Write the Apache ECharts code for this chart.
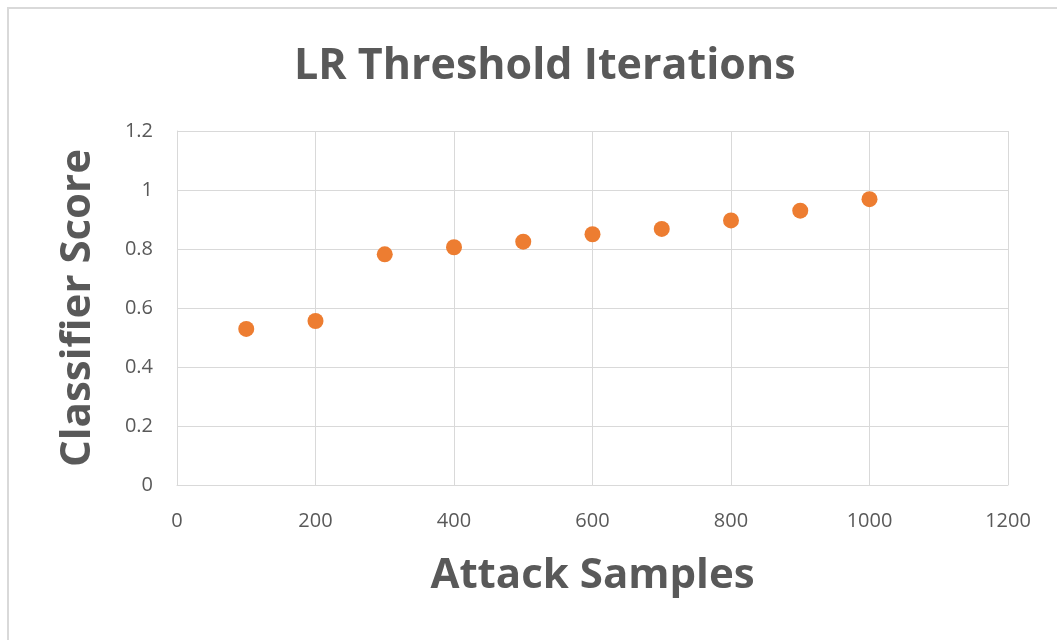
<!DOCTYPE html>
<html>
<head>
<meta charset="utf-8">
<script src="https://cdn.jsdelivr.net/npm/echarts@6/dist/echarts.min.js"></script>
<style>
html,body{margin:0;padding:0;background:#fff;}
#chart{width:1057px;height:640px;}
</style>
</head>
<body>
<div id="chart"></div>
<script>
const titleText = "LR Threshold Iterations";
const xAxisName = "Attack Samples";
const yAxisName = "Classifier Score";
const attackSamples = [100, 200, 300, 400, 500, 600, 700, 800, 900, 1000];
const classifierScores = [0.529, 0.556, 0.782, 0.806, 0.825, 0.850, 0.868, 0.897, 0.930, 0.969];

const points = attackSamples.map((x, i) => [x, classifierScores[i]]);
const txt = '#595959';
const grid = '#d9d9d9';
const chart = echarts.init(document.getElementById('chart'), null, {renderer: 'canvas'});
chart.setOption({
  backgroundColor: '#ffffff',
  animation: false,
  graphic: [{
    type: 'rect', shape: {x: 8, y: 8, width: 1060, height: 650},
    style: {fill: 'none', stroke: grid, lineWidth: 2}, silent: true
  }],
  title: {
    text: titleText, left: 289, top: 40,
    textStyle: {fontFamily: 'Open Sans', fontWeight: 'bold', fontSize: 43, color: txt}
  },
  grid: {left: 177, right: 49, top: 131, bottom: 155, containLabel: false},
  xAxis: {
    type: 'value', min: 0, max: 1200, interval: 200,
    name: xAxisName, nameLocation: 'middle', nameGap: 70,
    nameTextStyle: {fontFamily: 'Open Sans', fontWeight: 'bold', fontSize: 42, color: txt},
    axisLine: {show: true, lineStyle: {color: grid, width: 1}},
    axisTick: {show: false},
    axisLabel: {fontFamily: 'Open Sans', fontSize: 20, color: txt, margin: 26,
      formatter: v => String(v)},
    splitLine: {show: true, lineStyle: {color: grid, width: 1}}
  },
  yAxis: {
    type: 'value', min: 0, max: 1.2, interval: 0.2,
    name: yAxisName, nameLocation: 'middle', nameGap: 78,
    nameTextStyle: {fontFamily: 'Open Sans', fontWeight: 'bold', fontSize: 42, color: txt},
    axisLine: {show: true, lineStyle: {color: grid, width: 1}},
    axisTick: {show: false},
    axisLabel: {fontFamily: 'Open Sans', fontSize: 20, color: txt, margin: 24,
      formatter: v => String(Math.round(v * 10) / 10)},
    splitLine: {show: true, lineStyle: {color: grid, width: 1}}
  },
  series: [{
    type: 'scatter', data: points, symbol: 'circle', symbolSize: 16,
    itemStyle: {color: '#ED7D31', opacity: 1}
  }]
});
</script>
</body>
</html>
